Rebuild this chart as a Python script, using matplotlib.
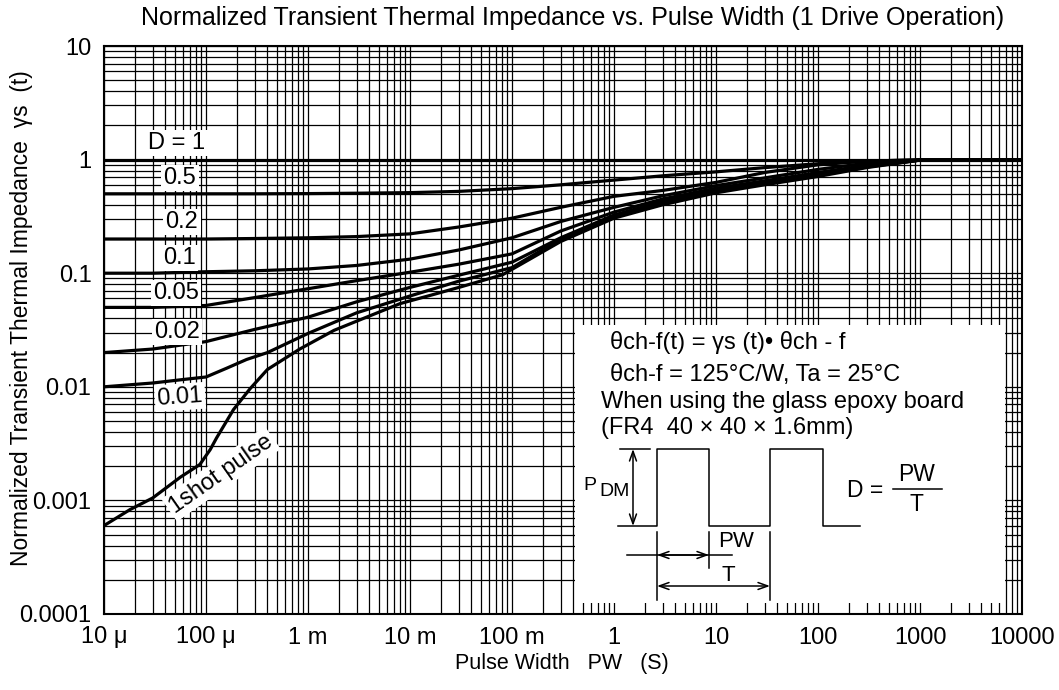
import matplotlib
matplotlib.use("Agg")
import matplotlib.pyplot as plt
from matplotlib.ticker import LogLocator, FixedLocator, FixedFormatter, NullFormatter

plt.rcParams['font.family'] = ['Liberation Sans', 'DejaVu Sans']

# pulse width grid (s) for the duty-cycle curves
pw = [1e-5, 3e-5, 1e-4, 3e-4, 1e-3, 3e-3, 1e-2, 3e-2, 0.1, 0.3, 1, 3, 10, 30, 100, 300, 1000, 10000]
d_1 = [1.0] * len(pw)
d_05 = [0.5, 0.5, 0.5, 0.5, 0.502, 0.506, 0.512, 0.525, 0.555, 0.60, 0.66, 0.72, 0.78, 0.85, 0.92, 0.97, 0.995, 1.0]
d_02 = [0.2, 0.2, 0.2, 0.202, 0.205, 0.21, 0.222, 0.255, 0.305, 0.38, 0.475, 0.535, 0.63, 0.77, 0.9, 0.97, 0.995, 1.0]
d_01 = [0.1, 0.1, 0.103, 0.105, 0.109, 0.117, 0.133, 0.16, 0.205, 0.285, 0.38, 0.48, 0.59, 0.69, 0.82, 0.93, 0.99, 1.0]
d_005 = [0.05, 0.05, 0.052, 0.061, 0.073, 0.086, 0.102, 0.12, 0.148, 0.235, 0.345, 0.45, 0.56, 0.65, 0.77, 0.89, 0.99, 1.0]
d_002 = [0.02, 0.0215, 0.025, 0.032, 0.041, 0.056, 0.075, 0.096, 0.125, 0.205, 0.325, 0.43, 0.54, 0.63, 0.75, 0.87, 0.99, 1.0]

pw_001 = [1e-5, 3e-5, 6e-5, 1e-4, 1.6e-4, 2.5e-4, 4e-4, 1e-3, 3e-3, 1e-2, 3e-2, 0.1, 0.3, 1, 3, 10, 30, 100, 300, 1000, 10000]
d_001 = [0.01, 0.0108, 0.0116, 0.0122, 0.0146, 0.0174, 0.020, 0.0295, 0.0448, 0.063, 0.085, 0.112, 0.20, 0.315, 0.42, 0.53, 0.615, 0.73, 0.86, 0.99, 1.0]

pw_1shot = [1e-5, 1.8e-5, 3e-5, 5.6e-5, 8.7e-5, 1.1e-4, 1.27e-4, 1.86e-4, 2.7e-4, 4e-4, 8.3e-4,
            1.8e-3, 4e-3, 8e-3, 1.6e-2, 3.1e-2, 8.1e-2, 0.3, 1, 3, 10, 30, 100, 300, 1000, 10000]
d_1shot = [0.0006, 0.00083, 0.00105, 0.0016, 0.00207, 0.0028, 0.00355, 0.0063, 0.0096, 0.0142, 0.0215,
           0.0314, 0.042, 0.054, 0.064, 0.0755, 0.097, 0.19, 0.305, 0.40, 0.51, 0.60, 0.71, 0.85, 0.99, 1.0]

x_ticks = [1e-5, 1e-4, 1e-3, 1e-2, 1e-1, 1, 10, 100, 1000, 10000]
x_labels = ["10 μ", "100 μ", "1 m", "10 m", "100 m", "1", "10", "100", "1000", "10000"]
y_ticks = [1e-4, 1e-3, 1e-2, 1e-1, 1, 10]
y_labels = ["0.0001", "0.001", "0.01", "0.1", "1", "10"]

fig = plt.figure(figsize=(10.59, 6.9), dpi=100)
W, H = 1059.0, 690.0
ax = fig.add_axes([104 / W, 1 - 614 / H, 918 / W, 568 / H])
ax.set_xscale('log')
ax.set_yscale('log')
ax.set_xlim(1e-5, 1e4)
ax.set_ylim(1e-4, 10)

ax.xaxis.set_major_locator(FixedLocator(x_ticks))
ax.xaxis.set_major_formatter(FixedFormatter(x_labels))
ax.yaxis.set_major_locator(FixedLocator(y_ticks))
ax.yaxis.set_major_formatter(FixedFormatter(y_labels))
ax.xaxis.set_minor_locator(LogLocator(base=10, subs=range(2, 10), numticks=100))
ax.yaxis.set_minor_locator(LogLocator(base=10, subs=range(2, 10), numticks=100))
ax.xaxis.set_minor_formatter(NullFormatter())
ax.yaxis.set_minor_formatter(NullFormatter())
ax.tick_params(which='both', length=0, labelsize=17, pad=9)
ax.grid(which='both', color='black', lw=0.9)
ax.set_axisbelow(True)
for s in ax.spines.values():
    s.set_linewidth(1.5)

curves = [(pw, d_1), (pw, d_05), (pw, d_02), (pw, d_01), (pw, d_005), (pw, d_002),
          (pw_001, d_001), (pw_1shot, d_1shot)]
for xs, ys in curves:
    ax.plot(xs, ys, color='black', lw=2.3, zorder=3)

# curve labels (axes fraction positions)
def fx(px):
    return (px - 104) / 918.0

def fy(py):
    return (614 - py) / 568.0

lbl_box = dict(boxstyle='square,pad=0.1', fc='white', ec='none')
labels = [("D = 1", 177, 143, 0), ("0.5", 180, 178, 0), ("0.2", 182, 222, 0),
          ("0.1", 179, 258, 0), ("0.05", 176, 293, 0), ("0.02", 177, 332, 0),
          ("0.01", 180, 397, 4)]
for txt, px, py, rot in labels:
    ax.text(fx(px), fy(py), txt, transform=ax.transAxes, fontsize=17, ha='center', va='center',
            rotation=rot, bbox=lbl_box, zorder=4)
ax.text(fx(221), fy(474), "1shot pulse", transform=ax.transAxes, fontsize=17, ha='center',
        va='center', rotation=35, bbox=dict(boxstyle='square,pad=0.12', fc='white', ec='none'), zorder=4)

fig.text(573 / W, 1 - 18 / H, "Normalized Transient Thermal Impedance vs. Pulse Width (1 Drive Operation)",
         ha='center', va='center', fontsize=18)
fig.text(562 / W, 1 - 663 / H, "Pulse Width   PW   (S)", ha='center', va='center', fontsize=15.5)
fig.text(22 / W, 1 - 318 / H, "Normalized Transient Thermal Impedance  γs  (t)", ha='center', va='center',
         fontsize=16.5, rotation=90)

# inset note box, drawn in pixel-like coordinates
bx = fig.add_axes([575 / W, 1 - 603 / H, 430 / W, 278 / H])
bx.set_xlim(575, 1005)
bx.set_ylim(603, 325)
bx.set_xticks([])
bx.set_yticks([])
for s in bx.spines.values():
    s.set_visible(False)
bx.set_facecolor('white')

bx.text(610, 343, "θch-f(t) = γs (t)• θch - f", fontsize=17, va='center', ha='left')
bx.text(610, 375, "θch-f = 125°C/W, Ta = 25°C", fontsize=17, va='center', ha='left')
bx.text(601, 402, "When using the glass epoxy board", fontsize=17, va='center', ha='left')
bx.text(601, 428, "(FR4  40 × 40 × 1.6mm)", fontsize=17, va='center', ha='left')

k = dict(color='black', lw=1.1)
bx.plot([618, 657, 657, 709, 709, 770, 770, 823, 823, 860],
        [526, 526, 449, 449, 526, 526, 449, 449, 526, 526], **k)
bx.plot([620, 650], [449, 449], **k)
bx.plot([657, 657], [532, 600], **k)
bx.plot([709, 709], [532, 568], **k)
bx.plot([770, 770], [532, 600], **k)
bx.plot([627, 732], [555, 555], **k)
arr = dict(arrowstyle='<->,head_length=0.7,head_width=0.25', color='black', lw=1.1, shrinkA=0, shrinkB=0)
bx.annotate('', xy=(633, 449), xytext=(633, 526), arrowprops=arr)
bx.annotate('', xy=(657, 555), xytext=(709, 555), arrowprops=arr)
bx.annotate('', xy=(657, 586), xytext=(770, 586), arrowprops=arr)
bx.text(596, 486, "P", fontsize=14, ha='right', va='center')
bx.text(599, 492, "DM", fontsize=14, ha='left', va='center')
bx.text(736, 542, "PW", fontsize=16, ha='center', va='center')
bx.text(728, 576, "T", fontsize=16, ha='center', va='center')
bx.text(865, 491, "D =", fontsize=16.5, ha='center', va='center')
bx.text(917, 475, "PW", fontsize=16.5, ha='center', va='center')
bx.plot([893, 942], [489, 489], **k)
bx.text(916, 505, "T", fontsize=16.5, ha='center', va='center')

fig.savefig("out.png", dpi=100)
